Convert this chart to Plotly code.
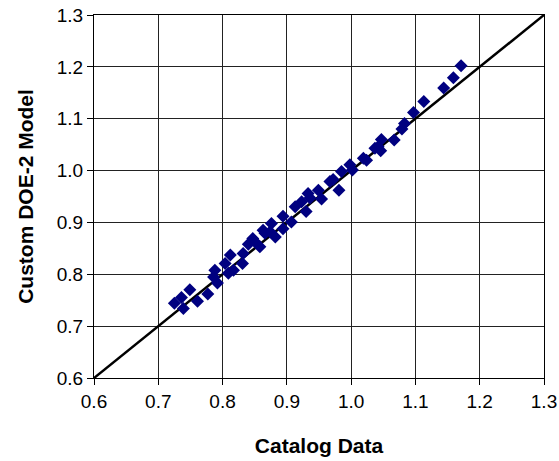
import plotly.graph_objects as go

catalog = [0.725, 0.736, 0.739, 0.749, 0.761, 0.777, 0.786, 0.788, 0.792, 0.804,
           0.809, 0.812, 0.817, 0.831, 0.832, 0.840, 0.847, 0.850, 0.858, 0.863,
           0.866, 0.874, 0.876, 0.882, 0.894, 0.894, 0.907, 0.913, 0.923, 0.930,
           0.933, 0.936, 0.949, 0.954, 0.967, 0.972, 0.981, 0.985, 0.998, 1.002,
           1.019, 1.024, 1.037, 1.042, 1.046, 1.047, 1.067, 1.079, 1.083, 1.097,
           1.113, 1.144, 1.159, 1.171]
model = [0.744, 0.755, 0.734, 0.770, 0.748, 0.762, 0.795, 0.808, 0.783, 0.821,
         0.802, 0.837, 0.808, 0.821, 0.840, 0.858, 0.869, 0.863, 0.853, 0.885,
         0.879, 0.882, 0.898, 0.872, 0.912, 0.888, 0.901, 0.930, 0.940, 0.921,
         0.956, 0.947, 0.962, 0.945, 0.979, 0.983, 0.962, 0.998, 1.011, 1.001,
         1.024, 1.020, 1.043, 1.046, 1.038, 1.060, 1.059, 1.080, 1.091, 1.112,
         1.133, 1.159, 1.179, 1.202]
line_x = [0.6, 1.3]
line_y = [0.6, 1.3]
ticks = [0.6, 0.7, 0.8, 0.9, 1.0, 1.1, 1.2, 1.3]

fig = go.Figure()
fig.add_trace(go.Scatter(x=line_x, y=line_y, mode="lines",
                         line=dict(color="black", width=2.5), showlegend=False))
fig.add_trace(go.Scatter(x=catalog, y=model, mode="markers",
                         marker=dict(symbol="diamond", color="#000080", size=10,
                                     line=dict(width=0)),
                         showlegend=False))

axis_common = dict(range=[0.6, 1.3], tickvals=ticks, tickformat=".1f",
                   showgrid=True, gridcolor="#222222", gridwidth=1,
                   showline=True, linecolor="black", linewidth=1, mirror=True,
                   ticks="outside", ticklen=6, tickcolor="black",
                   zeroline=False, automargin=False,
                   tickfont=dict(family="Liberation Sans, Arial", size=19, color="black"))

fig.update_layout(
    width=559, height=461,
    margin=dict(l=94, r=15, t=15, b=83),
    plot_bgcolor="white", paper_bgcolor="white",
    xaxis=dict(**axis_common,
               title=dict(text="<b>Catalog Data</b>", standoff=27,
                          font=dict(family="Liberation Sans, Arial", size=21, color="black"))),
    yaxis=dict(**axis_common,
               title=dict(text="<b>Custom DOE-2 Model</b>", standoff=17,
                          font=dict(family="Liberation Sans, Arial", size=21, color="black"))),
)

fig.write_html("out.html")
